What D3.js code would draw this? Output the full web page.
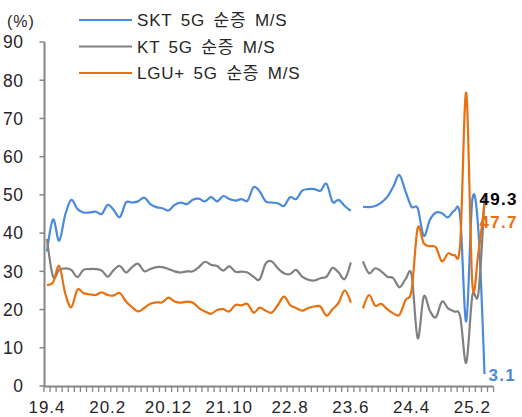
<!DOCTYPE html>
<html>
<head>
<meta charset="utf-8">
<script src="https://cdn.jsdelivr.net/npm/d3@7"></script>
<style>
  body { margin: 0; background: #fff; }
  svg { font-family: "Liberation Sans", Arial, "Noto Sans CJK KR", sans-serif; }
</style>
</head>
<body>
<div id="chart"></div>
<script>
/* DATA */
// monthly, 19.4 .. 25.4 (23.7 missing)
const skt = [35.2, 43.6, 38, 44.8, 48.7, 46.3, 45.4, 45.4, 45.6, 45, 47.4, 46, 44.2, 48, 48, 48.3, 49.3, 47.6, 46.8, 46.5,
  45.9, 47.4, 48, 47.6, 48.7, 49, 48.3, 49.4, 48.3, 49.7, 48.9, 48.5, 48.9, 48.5, 52, 50.9, 48.3, 48, 47.8, 47.1,
  49.4, 48.9, 51.1, 51.5, 51.5, 51.1, 52.9, 48.2, 48.7, 47.1, 45.8, null, 46.9, 46.8, 47.1, 48, 49.5, 52.2, 55.2, 50.9,
  46.9, 46.5, 39.3, 43.4, 45.4, 45.2, 44.1, 45.8, 44.3, 16.9, 48.8, 40.5, 3.1];
const kt = [38.5, 28.6, 30.4, 30.8, 30.4, 28.5, 30.4, 30.6, 30.6, 30.2, 28.6, 30.4, 31.4, 29.7, 31.1, 32, 30, 30.6, 31.1, 31.1,
  30.6, 30, 29.7, 30, 30, 31.1, 32.5, 31.7, 31.4, 30.2, 31.3, 29.9, 29.9, 29.7, 28.6, 27.9, 32.1, 32.6, 30.8, 29.5,
  29.3, 30.4, 28.6, 27.8, 27.6, 28.2, 28.6, 30.9, 29.7, 28, 32.3, null, 32.6, 29.5, 30.8, 30, 28.6, 28.2, 25.8, 27.9,
  29.1, 12.5, 23.4, 19.7, 18, 22.1, 20.3, 19.5, 18.2, 6.1, 23.6, 24.3, 49.3];
const lgu = [26.5, 27.1, 31.4, 24.2, 20.6, 25.2, 24.3, 24, 23.8, 24.5, 23.8, 23.7, 24.3, 22.1, 20.6, 19.5, 20.4, 21.5, 21.9, 21.9,
  23.1, 22.1, 21.8, 22.1, 21.8, 20.4, 19.5, 18.9, 19.9, 20.1, 19.5, 21.2, 21.1, 21.5, 19.2, 20.5, 19.7, 19.2, 21.2, 23.4,
  21.2, 20.4, 19.7, 20.4, 20.8, 20.8, 18.4, 20.1, 21.8, 25, 21.8, null, 20.3, 23.8, 21, 21.5, 20.1, 19, 18.6, 22.5,
  25.1, 41.3, 37.3, 36.6, 36.3, 32.6, 34.7, 34.3, 37.3, 76.7, 26.7, 35, 47.7];
const seriesNames = ["SKT 5G 순증 M/S", "KT 5G 순증 M/S", "LGU+ 5G 순증 M/S"];
const seriesColors = ["#4a89dc", "#808080", "#e8700e"];
const endLabelColors = ["#4a89dc", "#000000", "#e8700e"];
const tickLabels = ["19.4", "20.2", "20.12", "21.10", "22.8", "23.6", "24.4", "25.2"];
const yTicks = [0, 10, 20, 30, 40, 50, 60, 70, 80, 90];

// category list: 19.4 .. 25.5 (last slot left empty)
const months = [];
for (let y = 19, m = 4; months.length < 74; m++) {
  if (m > 12) { m = 1; y++; }
  months.push(y + "." + m);
}

/* LAYOUT */
const width = 522, height = 417;
const axisColor = "#868686", textColor = "#262626";

const svg = d3.select("#chart").append("svg")
  .attr("width", width)
  .attr("height", height);

const xScale = d3.scaleLinear().domain([0, 72]).range([47, 484.5]);
const yScale = d3.scaleLinear().domain([0, 90]).range([386, 42]);

// y axis
const yAxis = svg.append("g");
yAxis.append("line")
  .attr("x1", 44.5).attr("x2", 44.5)
  .attr("y1", yScale(90)).attr("y2", yScale(0))
  .attr("stroke", axisColor).attr("stroke-width", 2);
yAxis.selectAll(".ytick")
  .data(yTicks)
  .join("line")
  .attr("x1", 39.5).attr("x2", 44.5)
  .attr("y1", d => yScale(d)).attr("y2", d => yScale(d))
  .attr("stroke", axisColor).attr("stroke-width", 1.5);
yAxis.selectAll(".ylab")
  .data(yTicks)
  .join("text")
  .attr("x", 23.5)
  .attr("y", d => yScale(d))
  .attr("dy", "0.36em")
  .attr("text-anchor", "end")
  .attr("font-size", 17.5)
  .attr("letter-spacing", 0.5)
  .attr("fill", textColor)
  .text(d => d);

svg.append("text")
  .attr("x", 7).attr("y", 27)
  .attr("font-size", 16)
  .attr("letter-spacing", 1)
  .attr("fill", textColor)
  .text("(%)");

// x axis
const xAxis = svg.append("g");
xAxis.append("line")
  .attr("x1", xScale(-0.5) - 0.5).attr("x2", xScale(73.5))
  .attr("y1", 386.5).attr("y2", 386.5)
  .attr("stroke", axisColor).attr("stroke-width", 2);
xAxis.selectAll(".xtick")
  .data(d3.range(75))
  .join("line")
  .attr("x1", k => xScale(k - 0.5)).attr("x2", k => xScale(k - 0.5))
  .attr("y1", 386.5).attr("y2", 392)
  .attr("stroke", axisColor).attr("stroke-width", 1.3);
xAxis.selectAll(".xlab")
  .data(tickLabels)
  .join("text")
  .attr("x", d => xScale(months.indexOf(d)))
  .attr("y", 413)
  .attr("text-anchor", "middle")
  .attr("font-size", 17)
  .attr("letter-spacing", 1)
  .attr("fill", textColor)
  .text(d => d);

// lines
const allSeries = [skt, kt, lgu];
const line = d3.line()
  .defined(d => d != null)
  .x((d, i) => xScale(i))
  .y(d => yScale(d))
  .curve(d3.curveCardinal.tension(0));

svg.selectAll(".series")
  .data(allSeries)
  .join("path")
  .attr("class", "series")
  .attr("fill", "none")
  .attr("stroke", (d, i) => seriesColors[i])
  .attr("stroke-width", 2.2)
  .attr("stroke-linejoin", "round")
  .attr("d", d => line(d));

// end labels (LGU+ nudged down so it clears KT)
const labelShift = [1, 1, 18];
const labelDx = [4, -5, -5];
svg.selectAll(".endlab")
  .data(allSeries)
  .join("text")
  .attr("x", (d, i) => xScale(72) + labelDx[i])
  .attr("y", (d, i) => yScale(d[d.length - 1]) + labelShift[i])
  .attr("dy", "0.36em")
  .attr("font-size", 17)
  .attr("font-weight", "bold")
  .attr("letter-spacing", 1.3)
  .attr("fill", (d, i) => endLabelColors[i])
  .text(d => d[d.length - 1].toFixed(1));

// legend
const legend = svg.selectAll(".legend")
  .data(seriesNames)
  .join("g")
  .attr("transform", (d, i) => `translate(79,${20 + i * 26.5})`);
legend.append("line")
  .attr("x1", 0).attr("x2", 53)
  .attr("stroke", (d, i) => seriesColors[i])
  .attr("stroke-width", 2.2);
legend.append("text")
  .attr("x", 58)
  .attr("dy", "0.36em")
  .attr("font-size", 17)
  .attr("letter-spacing", 0.8)
  .attr("word-spacing", 3)
  .attr("fill", textColor)
  .text(d => d);
</script>
</body>
</html>
